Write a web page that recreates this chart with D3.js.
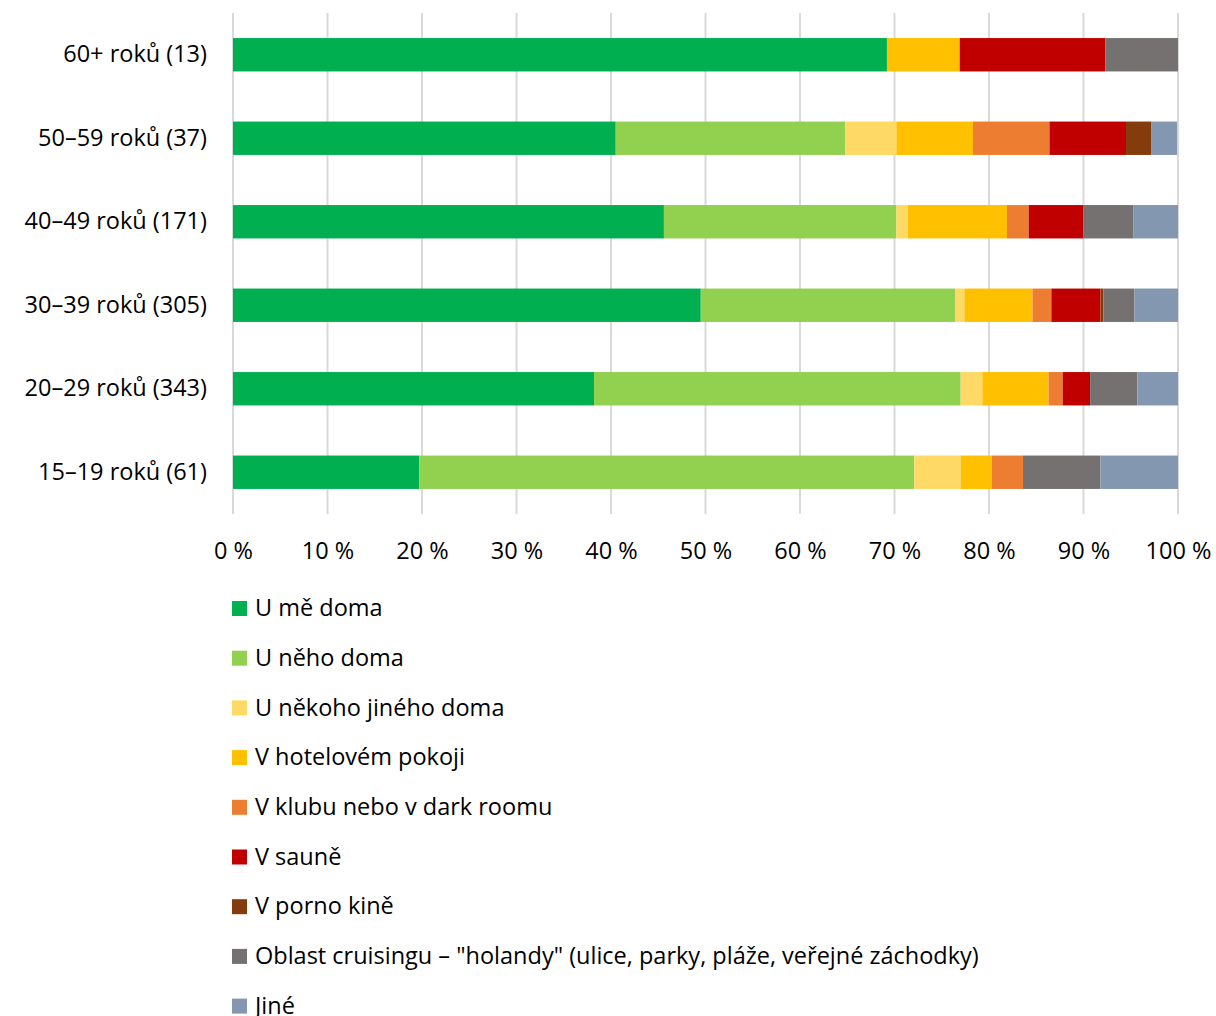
<!DOCTYPE html>
<html lang="cs">
<head>
<meta charset="utf-8">
<script src="https://d3js.org/d3.v7.min.js"></script>
<style>
  body { margin: 0; background: #fff; }
  text { font-family: "Open Sans", sans-serif; fill: #000; }
</style>
</head>
<body>
<div id="chart"></div>
<script>
var categories = ["60+ roků (13)", "50–59 roků (37)", "40–49 roků (171)", "30–39 roků (305)", "20–29 roků (343)", "15–19 roků (61)"];

var seriesNames = [
  "U mě doma",
  "U něho doma",
  "U někoho jiného doma",
  "V hotelovém pokoji",
  "V klubu nebo v dark roomu",
  "V sauně",
  "V porno kině",
  "Oblast cruisingu – \"holandy\" (ulice, parky, pláže, veřejné záchodky)",
  "Jiné"
];

var seriesColors = ["#00b050", "#92d050", "#ffd966", "#ffc000", "#ed7d31", "#c00000", "#843c0c", "#767171", "#8497b0"];

// percent per category, in series order
var pct60 = [69.2, 0, 0, 7.7, 0, 15.4, 0, 7.7, 0];
var pct50 = [40.5, 24.3, 5.4, 8.1, 8.1, 8.1, 2.7, 0, 2.7];
var pct40 = [45.6, 24.6, 1.2, 10.5, 2.3, 5.8, 0, 5.3, 4.7];
var pct30 = [49.5, 26.9, 1.0, 7.2, 2.0, 5.2, 0.3, 3.3, 4.6];
var pct20 = [38.2, 38.8, 2.3, 7.0, 1.5, 2.9, 0, 5.0, 4.3];
var pct15 = [19.7, 52.4, 4.9, 3.3, 3.3, 0, 0, 8.2, 8.2];

var xTicks = [0, 10, 20, 30, 40, 50, 60, 70, 80, 90, 100];

var rows = [pct60, pct50, pct40, pct30, pct20, pct15];
var table = categories.map(function(c, i) {
  var o = {cat: c};
  seriesNames.forEach(function(s, j) { o[s] = rows[i][j]; });
  return o;
});

var W = 1216, H = 1016;
var margin = {top: 13, left: 233, right: 38};
var plotH = 501;
var fontSize = 23.5;

var svg = d3.select("#chart").append("svg")
  .attr("width", W).attr("height", H);

var x = d3.scaleLinear().domain([0, 100]).range([margin.left, W - margin.right]);
var y = d3.scaleBand().domain(categories)
  .range([margin.top, margin.top + plotH])
  .paddingInner(0.6).paddingOuter(0.3);

// gridlines
svg.append("g").selectAll("line")
  .data(xTicks).enter().append("line")
  .attr("x1", function(d) { return x(d); })
  .attr("x2", function(d) { return x(d); })
  .attr("y1", margin.top)
  .attr("y2", margin.top + plotH)
  .attr("stroke", "#d9d9d9")
  .attr("stroke-width", 2);

var stack = d3.stack().keys(seriesNames)(table);

svg.append("g").selectAll("g")
  .data(stack).enter().append("g")
  .attr("fill", function(d, i) { return seriesColors[i]; })
  .selectAll("rect")
  .data(function(d) { return d; }).enter().append("rect")
  .attr("x", function(d) { return x(d[0]); })
  .attr("width", function(d) { return Math.max(0, x(d[1]) - x(d[0])); })
  .attr("y", function(d) { return y(d.data.cat); })
  .attr("height", y.bandwidth());

// x axis labels
var xAxis = d3.axisBottom(x).tickValues(xTicks).tickSize(0).tickPadding(0)
  .tickFormat(function(d) { return d + " %"; });
svg.append("g")
  .attr("transform", "translate(0," + 559 + ")")
  .call(xAxis)
  .call(function(g) {
    g.select(".domain").remove();
    g.selectAll("text").attr("font-size", fontSize).attr("font-family", "'Open Sans', sans-serif").attr("dy", 0);
  });

// y axis labels
var yAxis = d3.axisLeft(y).tickSize(0).tickPadding(26);
svg.append("g")
  .attr("transform", "translate(" + margin.left + ",0)")
  .call(yAxis)
  .call(function(g) {
    g.select(".domain").remove();
    g.selectAll("text").attr("font-size", fontSize).attr("font-family", "'Open Sans', sans-serif");
  });

// legend
var legend = svg.append("g").selectAll("g")
  .data(seriesNames).enter().append("g")
  .attr("transform", function(d, i) { return "translate(232," + (608 + i * 49.7) + ")"; });
legend.append("rect")
  .attr("x", 0).attr("y", -7).attr("width", 15).attr("height", 15)
  .attr("fill", function(d, i) { return seriesColors[i]; });
legend.append("text")
  .attr("x", 23).attr("y", 0).attr("dy", "0.35em")
  .attr("font-size", fontSize)
  .text(function(d) { return d; });
</script>
</body>
</html>
